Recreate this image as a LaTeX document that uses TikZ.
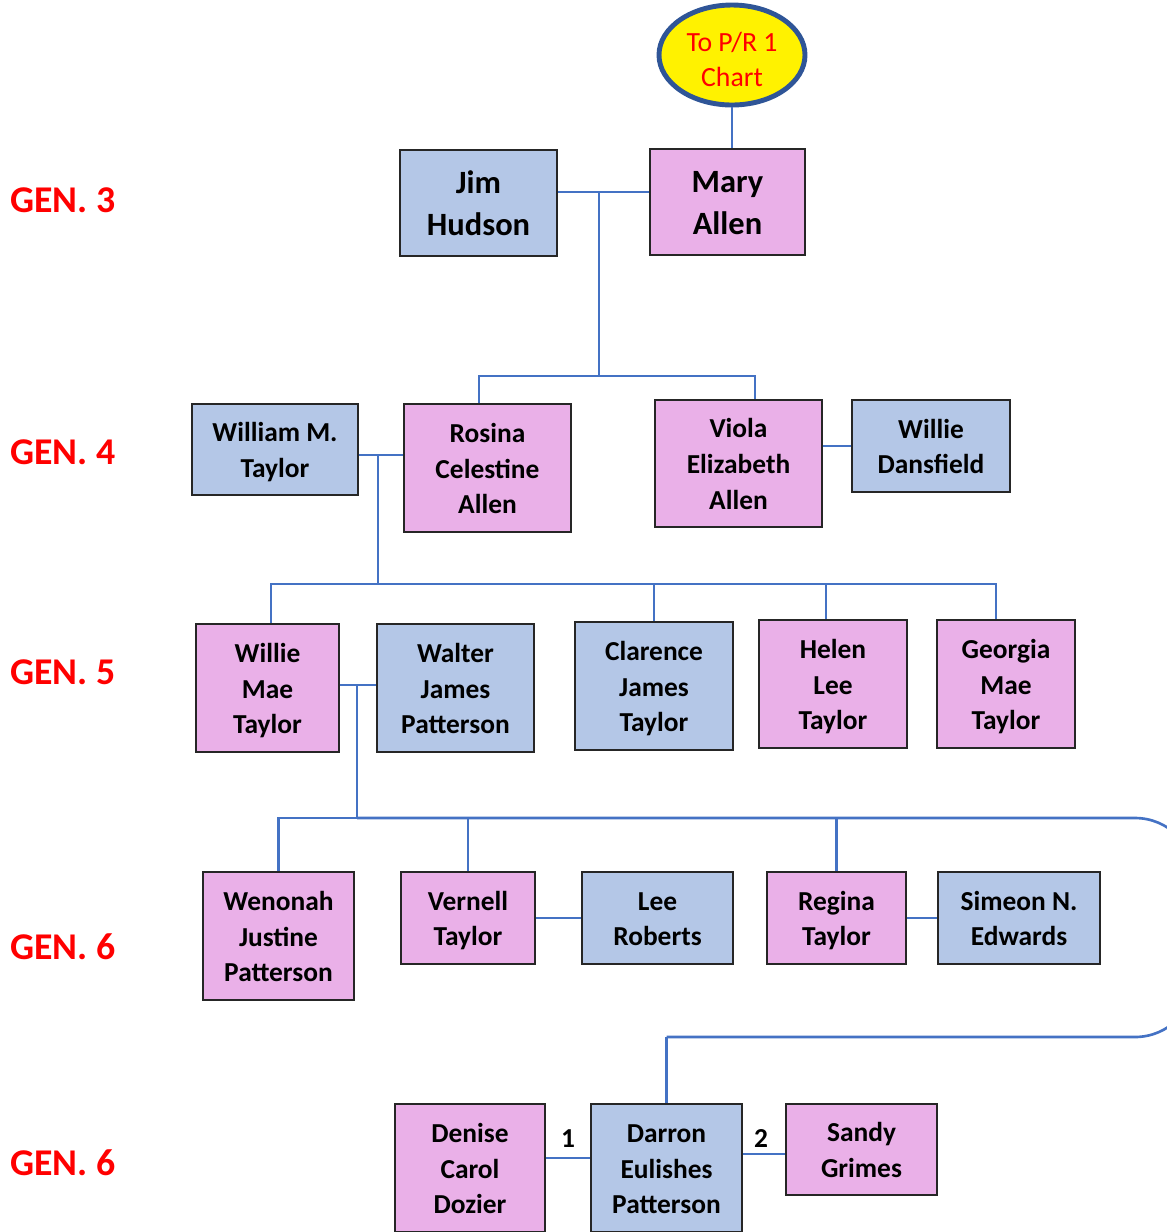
\documentclass[tikz,border=0pt]{standalone}
\usepackage{fontspec}
\setmainfont{Carlito}
\usepackage{tikz}
\usetikzlibrary{shapes.geometric}
\definecolor{malefill}{HTML}{B4C7E7}
\definecolor{femalefill}{HTML}{EAB0E8}
\definecolor{linkblue}{HTML}{4472C4}
\definecolor{ringblue}{HTML}{2F5597}
\newcommand{\lst}{\rule[-0.22\baselineskip]{0pt}{\baselineskip}}
\tikzstyle{person}=[rectangle,draw=black!85,line width=1.1pt,inner sep=0pt,align=center,font=\fontsize{15.6}{20.4}\selectfont\bfseries]
\tikzstyle{male}=[person,fill=malefill]
\tikzstyle{female}=[person,fill=femalefill]
\tikzstyle{link}=[draw=linkblue,line width=1.5pt]
\tikzstyle{gen}=[anchor=west,text=red,inner sep=0pt,font=\fontsize{21.5}{26}\selectfont\bfseries]
\tikzset{boxsize/.style 2 args={minimum width=#1*0.02cm,minimum height=#2*0.02cm}}

\begin{document}
\begin{tikzpicture}[x=0.02cm,y=-0.02cm]
      \clip (0,0) rectangle (1167,1232);
      % generation labels
      \node [gen] (gen3) at (10,200) {GEN. 3};
      \node [gen] (gen4) at (10,452) {GEN. 4};
      \node [gen] (gen5) at (10,672) {GEN. 5};
      \node [gen] (gen6) at (10,947) {GEN. 6};
      \node [gen] (gen6b) at (10,1163) {GEN. 6};
      % gen 3
      \node [ellipse,draw=ringblue,line width=2.8pt,fill=yellow,text=red,boxsize={146}{100},inner sep=0pt,align=center,font=\fontsize{15.8}{20}\selectfont] (chart) at (732,55) {\lst To P/R 1\\Chart};
      \node [male,boxsize={157}{106},font=\fontsize{18.5}{23.8}\selectfont\bfseries] (jim) at (478.5,203) {\lst Jim\\Hudson\lst};
      \node [female,boxsize={155}{106},font=\fontsize{18.5}{23.8}\selectfont\bfseries] (mary) at (727.5,202) {\lst Mary\\Allen\lst};
      % gen 4
      \node [male,boxsize={166}{91}] (william) at (275,449.5) {\lst William M.\\Taylor\lst};
      \node [female,boxsize={167}{128}] (rosina) at (487.5,468) {\lst Rosina\\Celestine\\Allen\lst};
      \node [female,boxsize={167}{127}] (viola) at (738.5,463.5) {\lst Viola\\Elizabeth\\Allen\lst};
      \node [male,boxsize={158}{92}] (dansfield) at (931,446) {\lst Willie\\Dansfield\lst};
      % gen 5
      \node [female,boxsize={143}{128}] (williemae) at (267.5,688) {\lst Willie\\Mae\\Taylor\lst};
      \node [male,boxsize={157}{128}] (walter) at (455.5,688) {\lst Walter\\James\\Patterson\lst};
      \node [male,boxsize={158}{128}] (clarence) at (654,686) {\lst Clarence\\James\\Taylor\lst};
      \node [female,boxsize={148}{128}] (helen) at (833,684) {\lst Helen\\Lee\\Taylor\lst};
      \node [female,boxsize={138}{128}] (georgia) at (1006,684) {\lst Georgia\\Mae\\Taylor\lst};
      % gen 6
      \node [female,boxsize={151}{128}] (wenonah) at (278.5,936) {\lst Wenonah\\Justine\\Patterson\lst};
      \node [female,boxsize={134}{92}] (vernell) at (468,918) {\lst Vernell\\Taylor\lst};
      \node [male,boxsize={151}{92}] (lee) at (657.5,918) {\lst Lee\\Roberts\lst};
      \node [female,boxsize={139}{92}] (regina) at (836.5,918) {\lst Regina\\Taylor\lst};
      \node [male,boxsize={162}{92}] (simeon) at (1019,918) {\lst Simeon N.\\Edwards\lst};
      % bottom row
      \node [female,boxsize={150}{128}] (denise) at (470,1168) {\lst Denise\\Carol\\Dozier\lst};
      \node [male,boxsize={151}{128}] (darron) at (666.5,1168) {\lst Darron\\Eulishes\\Patterson\lst};
      \node [female,boxsize={151}{91}] (sandy) at (861.5,1149.5) {\lst Sandy\\Grimes\lst};
      \node [font=\fontsize{15.6}{20}\selectfont\bfseries,inner sep=0pt] (first) at (568,1139) {1};
      \node [font=\fontsize{15.6}{20}\selectfont\bfseries,inner sep=0pt] (second) at (761,1138) {2};
      % junctions
      \coordinate (m3) at (599,192);
      \coordinate (c4) at (599,376);
      \coordinate (d4a) at (479,376);
      \coordinate (d4b) at (755,376);
      \coordinate (m4) at (378,455);
      \coordinate (c5) at (378,584);
      \coordinate (d5a) at (271,584);
      \coordinate (d5b) at (996,584);
      \coordinate (d5c) at (826,584);
      \coordinate (m5) at (357,685);
      \coordinate (c6) at (357,818);
      \coordinate (r1) at (1195,818);
      \coordinate (r2) at (1195,1037);
      \coordinate (m7) at (568,1158);
      \coordinate (m8) at (761,1154);
      % links
      \draw [link] (chart.south) -- (chart.south |- mary.north);
      \draw [link] (jim.east |- m3) -- (mary.west |- m3);
      \draw [link] (m3) -- (c4);
      \draw [link] (d4a |- rosina.north) -- (d4a) -- (d4b) -- (d4b |- viola.north);
      \draw [link] (william.east |- m4) -- (rosina.west |- m4);
      \draw [link] (viola.east |- dansfield.west) -- (dansfield.west);
      \draw [link] (m4) -- (c5);
      \draw [link] (d5a |- williemae.north) -- (d5a) -- (d5b) -- (d5b |- georgia.north);
      \draw [link] (clarence.north) -- (clarence.north |- c5);
      \draw [link] (d5c |- helen.north) -- (d5c);
      \draw [link] (williemae.east |- m5) -- (walter.west |- m5);
      \draw [link] (m5) -- (c6);
      \draw [link] (wenonah.north) |- (c6);
      \draw [link,rounded corners=60*0.02cm] (c6) -- (r1) -- (r2) -- (darron.north |- r2);
      \draw [link] (darron.north |- r2) -- (darron.north);
      \draw [link] (vernell.north) -- (vernell.north |- c6);
      \draw [link] (regina.north) -- (regina.north |- c6);
      \draw [link] (vernell.east) -- (lee.west);
      \draw [link] (regina.east) -- (simeon.west);
      \draw [link] (denise.east |- m7) -- (darron.west |- m7);
      \draw [link] (darron.east |- m8) -- (sandy.west |- m8);
    \end{tikzpicture}
\end{document}
